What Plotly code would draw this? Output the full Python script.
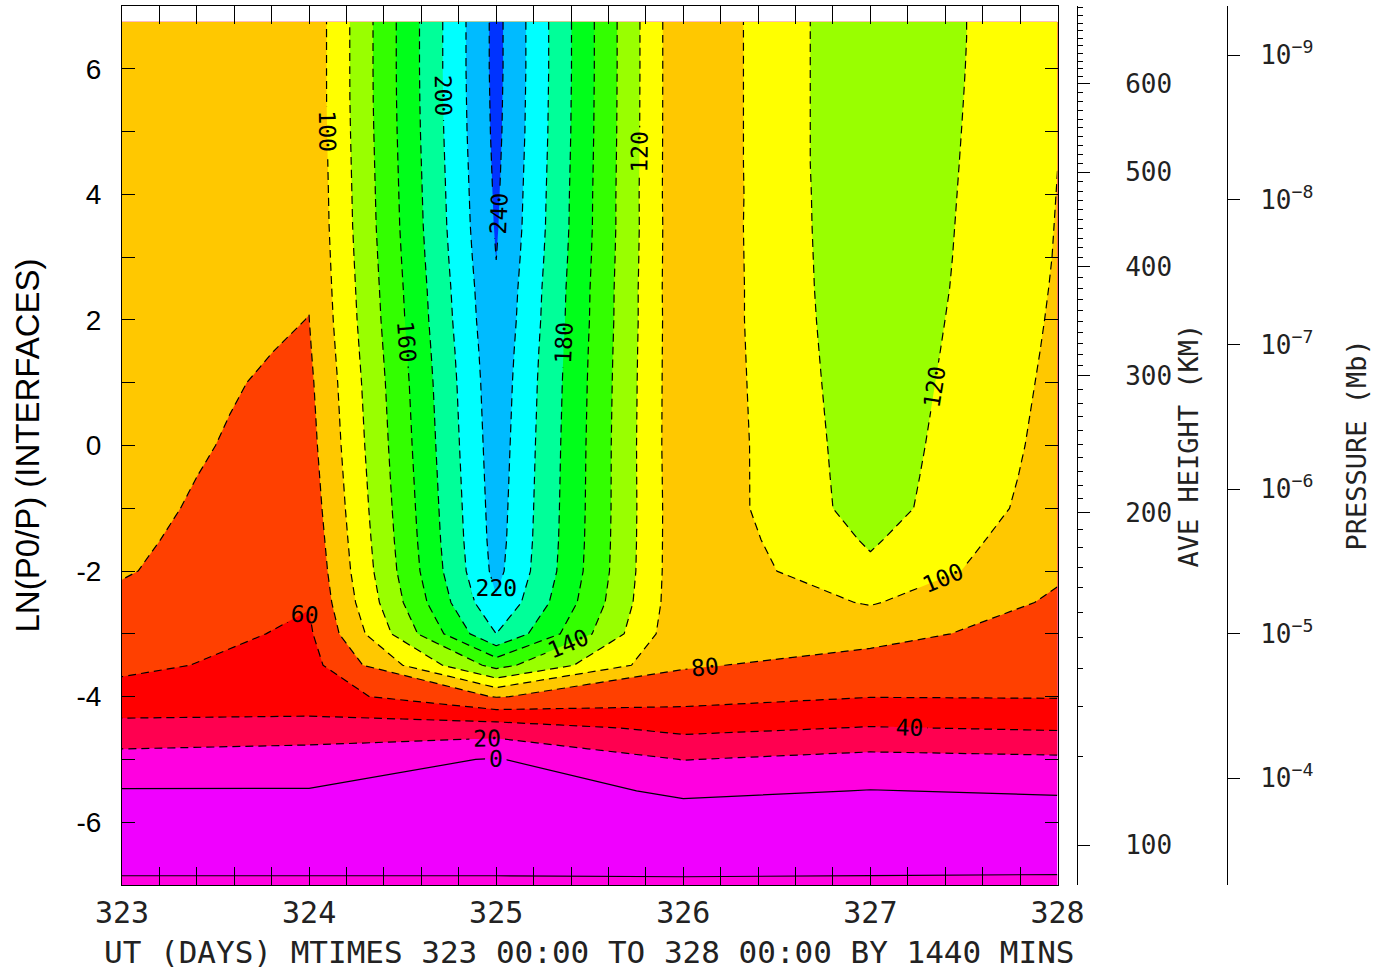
import numpy as np
import plotly.graph_objects as go

# ---------------- data ----------------
days = [323, 324, 325, 326, 327, 328]
zp = [-7, -6.5, -6, -5.5, -5, -4.5, -4, -3.5, -3, -2.5, -2, -1.5, -1, -0.5,
      0, 0.5, 1, 1.5, 2, 2.5, 3, 3.5, 4, 4.5, 5, 5.5, 6, 6.5, 6.75]

t323 = [5, -12, -14, -1, 13, 34, 53, 64, 70, 76, 81.5, 83.5, 85, 86,
        87, 87.5, 88, 88.5, 89, 89, 89.5, 89.5, 90, 90, 90, 90, 90, 90, 90]
t324 = [5, -12, -14, -0.7, 8.1, 33.9, 50, 53, 57, 61, 64, 66.5, 69, 71,
        73, 74.5, 76, 78, 79.8, 81, 82, 83, 83.5, 84, 84.5, 85, 85, 85, 85]
t325 = [5, -12, -16, -12, -1, 30, 81, 147, 200, 218, 226, 228, 229, 230,
        231, 232, 233, 234.5, 236.5, 238, 240.2, 242, 243, 244, 245, 245.5, 246, 246, 246]
t326 = [5, -14, -12, 4, 20.5, 45, 67, 82, 83, 84, 84, 84, 84, 83.5,
        83, 83, 83, 83, 83, 82.5, 82.5, 82.5, 82, 82, 82, 82, 82, 82, 82]
t327 = [6, -14, -13, -0.5, 14, 39, 60.5, 73, 86, 101.5, 116, 122.5, 129, 130,
        131, 132, 133, 134, 135, 136, 136.5, 137, 137.5, 138, 138, 138, 138, 138, 138]
t328 = [7, -14, -12, 2, 16.5, 42, 61, 67, 72, 77, 83, 86, 90, 92,
        93.5, 94.5, 95.5, 96.5, 97.4, 98.2, 98.9, 99.3, 99.7, 100.1, 101, 101.8, 102.5, 103, 103]

level_start, level_end, level_step = -20, 240, 20
# first colour is only the seam/background colour (no data below -20)
band_colors = ["#FFFFFF", "#F000FF", "#FF00E0", "#FF0050", "#FF0000", "#FF4000",
               "#FFC800", "#FFFF00", "#99FF00", "#33FF00", "#00FF1A", "#00FF99",
               "#00FFFF", "#00BBFF", "#0033FF"]

day_ticks = [323, 324, 325, 326, 327, 328]
zp_ticks = [-6, -4, -2, 0, 2, 4, 6]

# average height (km) vs ln(p0/p)
height_tab_km = [100, 110, 120, 130, 140, 150, 160, 170, 180, 190, 200,
                 300, 400, 500, 600, 700]
height_tab_zp = [-6.366, -4.948, -4.151, -3.546, -3.052, -2.653, -2.255, -1.936,
                 -1.618, -1.331, -1.069, 1.108, 2.849, 4.354, 5.761, 6.97]
height_major = [100, 200, 300, 400, 500, 600]

p0_mb = 5e-7
pressure_exponents = [-9, -8, -7, -6, -5, -4]

# ---------------- figure ----------------
z = np.array([t323, t324, t325, t326, t327, t328]).T
n_lev = int((level_end - level_start) / level_step) + 1
colorscale = [[k / n_lev, c] for k, c in enumerate(band_colors)]

fig = go.Figure()
fig.add_trace(go.Contour(
    x=days, y=zp, z=z, autocontour=False,
    contours=dict(start=level_start, end=level_end, size=level_step,
                  coloring="fill", showlines=False),
    colorscale=colorscale, showscale=False,
    line=dict(width=0, smoothing=0), hoverinfo="skip"))

lab_font = dict(family="DejaVu Sans Mono", size=23, color="black")
fig.add_trace(go.Contour(
    x=days, y=zp, z=z, autocontour=False,
    contours=dict(start=20, end=level_end, size=level_step,
                  coloring="none", showlabels=True, labelfont=lab_font),
    line=dict(color="black", width=1.2, dash="8px,5px", smoothing=0),
    showscale=False, hoverinfo="skip"))
fig.add_trace(go.Contour(
    x=days, y=zp, z=z, autocontour=False,
    contours=dict(start=0, end=0, size=level_step,
                  coloring="none", showlabels=True, labelfont=lab_font),
    line=dict(color="black", width=1.2, smoothing=0),
    showscale=False, hoverinfo="skip"))

# empty traces to bind the extra axes
fig.add_trace(go.Scatter(x=[], y=[], yaxis="y2", hoverinfo="skip"))
fig.add_trace(go.Scatter(x=[], y=[], yaxis="y3", hoverinfo="skip"))

# geometry
W, H = 1387, 973
ml, mr, mt, mb = 122, 10, 6, 88
pw = W - ml - mr
ph = H - mt - mb
plot_right = 1057.5
dom_end = (plot_right - ml) / pw
pos_h = (1077 - ml) / pw
pos_p = (1227 - ml) / pw

h_vals = [float(np.interp(h, height_tab_km, height_tab_zp)) for h in height_major]
h_minor = [float(np.interp(h, height_tab_km, height_tab_zp))
           for h in range(110, 701, 10) if h not in height_major]
p_vals = [float(np.log(p0_mb / 10.0 ** e)) for e in pressure_exponents]
p_text = ["10<sup>\u2212%d</sup>" % (-e) for e in pressure_exponents]

mono = "DejaVu Sans Mono"
txt_col = "#222222"

fig.update_layout(
    width=W, height=H, margin=dict(l=ml, r=mr, t=mt, b=mb, autoexpand=False),
    paper_bgcolor="white", plot_bgcolor="white", showlegend=False,
    xaxis=dict(domain=[0, dom_end], range=[323, 328], automargin=False,
               tickmode="array", tickvals=day_ticks, ticktext=[str(d) for d in day_ticks],
               ticks="inside", ticklen=18, tickwidth=1, tickcolor="black",
               showline=True, linecolor="black", linewidth=1, mirror="allticks",
               showgrid=False, zeroline=False,
               minor=dict(dtick=0.2, tick0=323, ticks="inside", ticklen=9,
                          tickcolor="black", showgrid=False),
               tickfont=dict(family=mono, size=30, color=txt_col),
               ticklabelstandoff=1),
    yaxis=dict(range=[-7, 7], tickmode="array", tickvals=zp_ticks, automargin=False,
               ticktext=[str(v) for v in zp_ticks],
               ticks="inside", ticklen=13, tickwidth=1, tickcolor="black",
               showline=True, linecolor="black", linewidth=1, mirror="allticks",
               showgrid=False, zeroline=False,
               minor=dict(dtick=1, tick0=0, ticks="inside", ticklen=13,
                          tickcolor="black", showgrid=False),
               tickfont=dict(family="Liberation Sans", size=28, color="black"),
               ticklabelstandoff=14),
    yaxis2=dict(overlaying="y", anchor="free", position=pos_h, side="right",
                automargin=False,
                range=[-7, 7], showline=True, linecolor="black", linewidth=1,
                tickmode="array", tickvals=h_vals, ticktext=[str(h) for h in height_major],
                ticks="outside", ticklen=12, tickcolor="black",
                minor=dict(tickmode="array", tickvals=h_minor, ticks="outside",
                           ticklen=5, tickcolor="black", showgrid=False),
                showgrid=False, zeroline=False,
                tickfont=dict(family=mono, size=26, color=txt_col),
                ticklabelstandoff=30),
    yaxis3=dict(overlaying="y", anchor="free", position=pos_p, side="right",
                automargin=False,
                range=[-7, 7], showline=True, linecolor="black", linewidth=1,
                tickmode="array", tickvals=p_vals, ticktext=p_text,
                ticks="outside", ticklen=12, tickcolor="black",
                showgrid=False, zeroline=False,
                tickfont=dict(family=mono, size=26, color=txt_col),
                ticklabelstandoff=15),
    annotations=[
        dict(text="UT (DAYS) MTIMES 323 00:00 TO 328 00:00 BY 1440 MINS",
             xref="paper", yref="paper", x=(589.5 - ml) / pw, y=(885 - 952) / ph,
             xanchor="center", yanchor="middle", showarrow=False,
             font=dict(family=mono, size=31, color=txt_col)),
        dict(text="LN(P0/P) (INTERFACES)", textangle=-90,
             xref="paper", yref="paper", x=(27 - ml) / pw, y=0.5,
             xanchor="center", yanchor="middle", showarrow=False,
             font=dict(family="Liberation Sans", size=33, color="black")),
        dict(text="AVE HEIGHT (KM)", textangle=-90,
             xref="paper", yref="paper", x=(1188 - ml) / pw, y=0.5,
             xanchor="center", yanchor="middle", showarrow=False,
             font=dict(family=mono, size=27, color=txt_col)),
        dict(text="PRESSURE (Mb)", textangle=-90,
             xref="paper", yref="paper", x=(1356 - ml) / pw, y=0.5,
             xanchor="center", yanchor="middle", showarrow=False,
             font=dict(family=mono, size=27, color=txt_col)),
    ],
)

fig.write_html("out.html",
               config={"displayModeBar": False},
               post_script="document.body.style.margin='0px';"
                           "document.body.style.overflow='hidden';")
